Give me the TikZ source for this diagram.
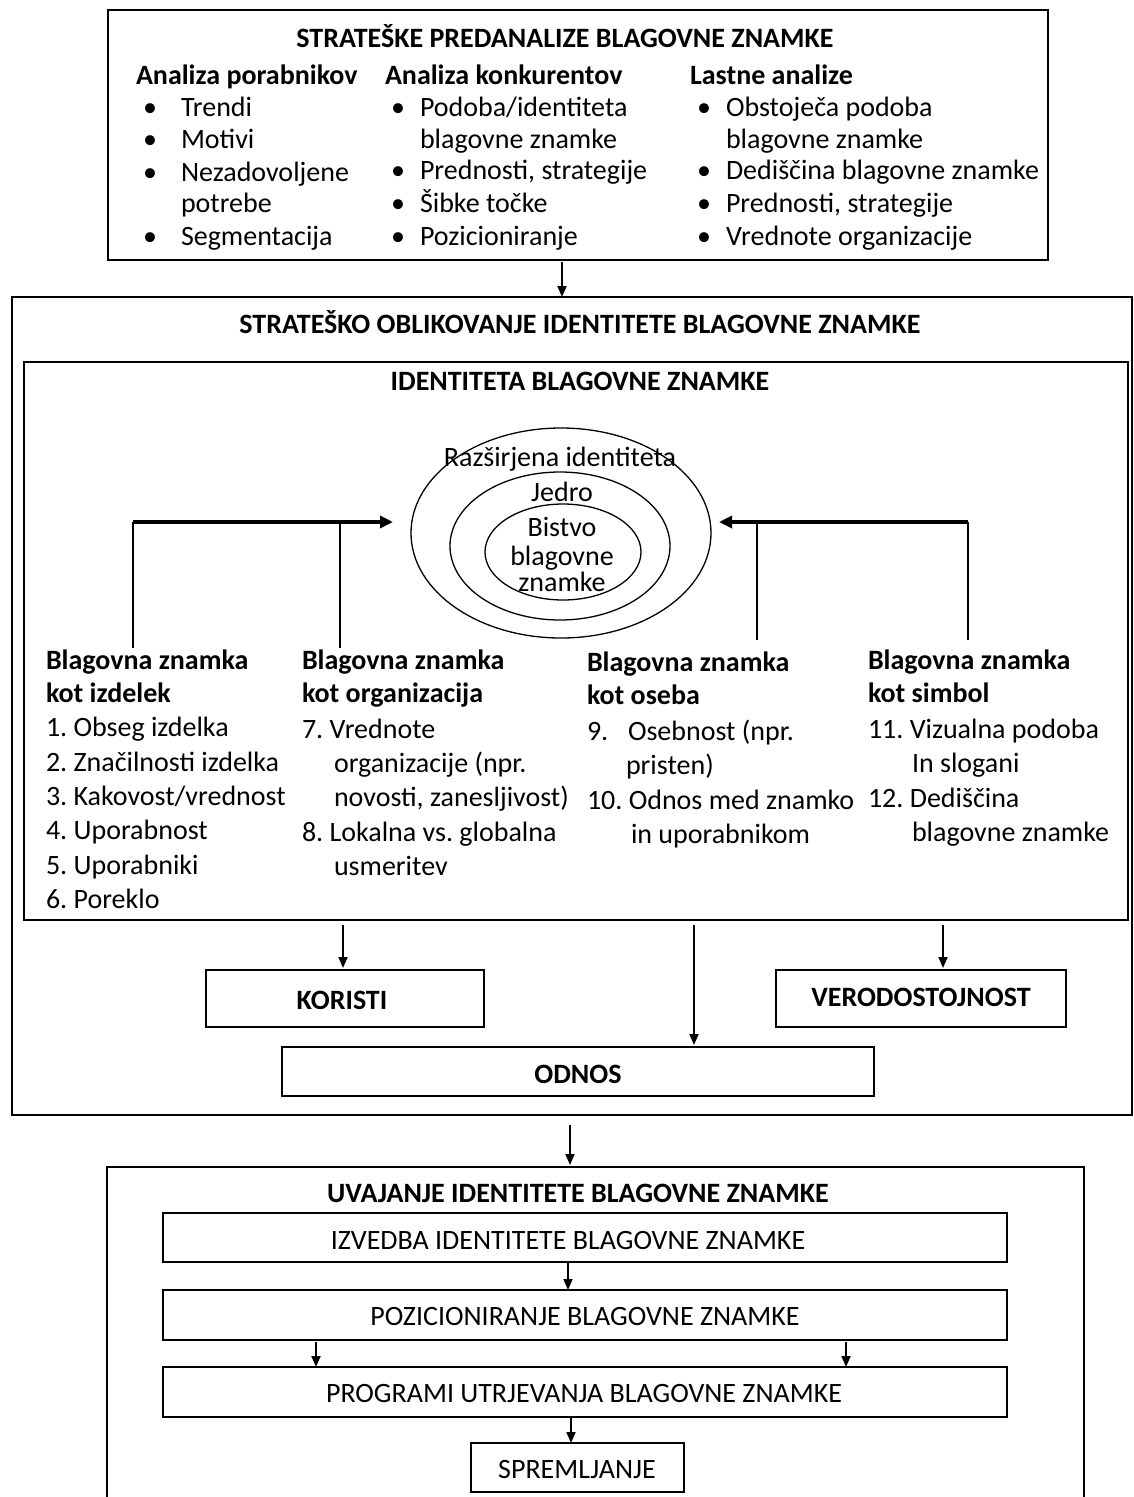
\documentclass[tikz,border=0pt]{standalone}
\usepackage{fontspec}
\setmainfont{Carlito}
\usetikzlibrary{arrows.meta,shapes.geometric}
\frenchspacing

\begin{document}
\begin{tikzpicture}[x=1pt,y=-1pt,
  every node/.style={inner sep=0pt, outer sep=0pt},
  body/.style={font=\fontsize{28}{32}\selectfont, anchor=base west},
  bodyc/.style={font=\fontsize{28}{32}\selectfont, anchor=base},
  title/.style={font=\fontsize{28}{32}\selectfont\bfseries, anchor=base},
  caps/.style={font=\fontsize{28}{32}\selectfont, anchor=base},
  colhead/.style={font=\fontsize{28}{32}\selectfont\bfseries, anchor=base west},
  frame/.style={draw, line width=1.6pt, anchor=north west},
  arr/.style={line width=1.8pt, -{Triangle[length=11pt,width=9pt]}},
  stem/.style={line width=2pt},
  bar/.style={line width=3.2pt, -{Triangle[length=13pt,width=12pt]}},
  ring/.style={draw, ellipse, line width=1.3pt}
]
\useasboundingbox (0,0) rectangle (1134,1497);
\clip (0,0) rectangle (1134,1497);

% ---------- frames ----------
\node[frame, minimum width=940pt, minimum height=250pt] (pre) at (108,10) {};
\node[frame, minimum width=1120pt, minimum height=818pt] (oblik) at (12,297) {};
\node[frame, minimum width=1104pt, minimum height=558pt] (ident) at (24,362) {};
\node[frame, minimum width=278pt, minimum height=57pt] (kor) at (206,970) {};
\node[frame, minimum width=290pt, minimum height=57pt] (ver) at (776,970) {};
\node[frame, minimum width=592pt, minimum height=49pt] (odn) at (282,1047) {};
\node[frame, minimum width=977pt, minimum height=380pt] (uva) at (107,1167) {};
\node[frame, minimum width=844pt, minimum height=49pt] (izv) at (163,1213) {};
\node[frame, minimum width=844pt, minimum height=50pt] (poz) at (163,1290) {};
\node[frame, minimum width=844pt, minimum height=50pt] (prg) at (163,1367) {};
\node[frame, minimum width=213pt, minimum height=49pt] (spr) at (471,1443) {};

% ---------- strategic pre-analyses ----------
\node[title] (preT) at (565,47) {STRATEŠKE PREDANALIZE BLAGOVNE ZNAMKE};
\node[colhead] (pa) at (136,84) {Analiza porabnikov};
\node[colhead] (pb) at (385,84) {Analiza konkurentov};
\node[colhead] (pc) at (690,84) {Lastne analize};

\node[bodyc] (ba1) at (150,116) {•};
\node[body]  (ta1) at (181,116) {Trendi};
\node[bodyc] (ba2) at (150,148) {•};
\node[body]  (ta2) at (181,148) {Motivi};
\node[bodyc] (ba3) at (150,181) {•};
\node[body]  (ta3) at (181,181) {Nezadovoljene};
\node[body]  (ta3b) at (181,212) {potrebe};
\node[bodyc] (ba4) at (150,245) {•};
\node[body]  (ta4) at (181,245) {Segmentacija};

\node[bodyc] (bb1) at (398,116) {•};
\node[body]  (tb1) at (420,116) {Podoba/identiteta};
\node[body]  (tb1b) at (420,148) {blagovne znamke};
\node[bodyc] (bb2) at (398,179) {•};
\node[body]  (tb2) at (420,179) {Prednosti, strategije};
\node[bodyc] (bb3) at (398,212) {•};
\node[body]  (tb3) at (420,212) {Šibke točke};
\node[bodyc] (bb4) at (398,245) {•};
\node[body]  (tb4) at (420,245) {Pozicioniranje};

\node[bodyc] (bc1) at (704,116) {•};
\node[body]  (tc1) at (726,116) {Obstoječa podoba};
\node[body]  (tc1b) at (726,148) {blagovne znamke};
\node[bodyc] (bc2) at (704,179) {•};
\node[body]  (tc2) at (726,179) {Dediščina blagovne znamke};
\node[bodyc] (bc3) at (704,212) {•};
\node[body]  (tc3) at (726,212) {Prednosti, strategije};
\node[bodyc] (bc4) at (704,245) {•};
\node[body]  (tc4) at (726,245) {Vrednote organizacije};

% ---------- strategic identity design ----------
\node[title] (oblikT) at (580,333) {STRATEŠKO OBLIKOVANJE IDENTITETE BLAGOVNE ZNAMKE};
\node[title] (identT) at (580,390) {IDENTITETA BLAGOVNE ZNAMKE};

\node[ring, minimum width=300pt, minimum height=210pt] (eOut) at (561,533) {};
\node[ring, minimum width=220pt, minimum height=148pt] (eMid) at (560,546) {};
\node[ring, minimum width=156pt, minimum height=96pt]  (eIn)  at (563,552) {};
\node[bodyc] (tOut) at (560,466) {Razširjena identiteta};
\node[bodyc] (tMid) at (562,501) {Jedro};
\node[bodyc] (tIn1) at (562,536) {Bistvo};
\node[bodyc] (tIn2) at (562,565) {blagovne};
\node[bodyc] (tIn3) at (562,591) {znamke};

% four perspectives
\node[colhead] (h1a) at (46,669) {Blagovna znamka};
\node[colhead] (h1b) at (46,702) {kot izdelek};
\node[body] (i1) at (46,736) {1. Obseg izdelka};
\node[body] (i2) at (46,771) {2. Značilnosti izdelka};
\node[body] (i3) at (46,805) {3. Kakovost/vrednost};
\node[body] (i4) at (46,839) {4. Uporabnost};
\node[body] (i5) at (46,874) {5. Uporabniki};
\node[body] (i6) at (46,908) {6. Poreklo};

\node[colhead] (h2a) at (302,669) {Blagovna znamka};
\node[colhead] (h2b) at (302,702) {kot organizacija};
\node[body] (i7)  at (302,738) {7. Vrednote};
\node[body] (i7b) at (334,772) {organizacije (npr.};
\node[body] (i7c) at (334,806) {novosti, zanesljivost)};
\node[body] (i8)  at (302,841) {8. Lokalna vs. globalna};
\node[body] (i8b) at (334,875) {usmeritev};

\node[colhead] (h3a) at (587,671) {Blagovna znamka};
\node[colhead] (h3b) at (587,704) {kot oseba};
\node[body] (n9)   at (587,740) {9.};
\node[body] (i9)   at (628,740) {Osebnost (npr.};
\node[body] (i9b)  at (626,774) {pristen)};
\node[body] (i10)  at (587,809) {10. Odnos med znamko};
\node[body] (i10b) at (631,843) {in uporabnikom};

\node[colhead] (h4a) at (868,669) {Blagovna znamka};
\node[colhead] (h4b) at (868,702) {kot simbol};
\node[body] (i11)  at (868,738) {11. Vizualna podoba};
\node[body] (i11b) at (912,772) {In slogani};
\node[body] (i12)  at (868,807) {12. Dediščina};
\node[body] (i12b) at (912,841) {blagovne znamke};

% elbow connectors into the identity rings
\coordinate (eL1) at (133,648);
\coordinate (eL2) at (340,648);
\coordinate (tipL) at (393,522);
\coordinate (eR1) at (968,640);
\coordinate (eR2) at (757,640);
\coordinate (tipR) at (719,522);
\draw[stem] (eL1) -- (eL1 |- tipL);
\draw[stem] (eL2) -- (eL2 |- tipL);
\draw[bar] (eL1 |- tipL) -- (tipL);
\draw[stem] (eR1) -- (eR1 |- tipR);
\draw[stem] (eR2) -- (eR2 |- tipR);
\draw[bar] (eR1 |- tipR) -- (tipR);

% results
\node[title] (korT) at (342,1009) {KORISTI};
\node[title] (verT) at (921,1006) {VERODOSTOJNOST};
\node[title] (odnT) at (578,1083) {ODNOS};

% ---------- implementation ----------
\node[title] (uvaT) at (578,1202) {UVAJANJE IDENTITETE BLAGOVNE ZNAMKE};
\node[caps] (izvT) at (568,1249) {IZVEDBA IDENTITETE BLAGOVNE ZNAMKE};
\node[caps] (pozT) at (585,1325) {POZICIONIRANJE BLAGOVNE ZNAMKE};
\node[caps] (prgT) at (584,1402) {PROGRAMI UTRJEVANJA BLAGOVNE ZNAMKE};
\node[caps] (sprT) at (577,1478) {SPREMLJANJE};

% ---------- arrows between stages ----------
\coordinate (x1) at (562,0);
\coordinate (x2) at (343,0);
\coordinate (x3) at (943,0);
\coordinate (x4) at (694,0);
\coordinate (x5) at (570,0);
\coordinate (x6) at (568,0);
\coordinate (x7) at (316,0);
\coordinate (x8) at (846,0);
\coordinate (x9) at (571,0);

\draw[arr, shorten <=2pt] (pre.south -| x1) -- (oblik.north -| x1);
\draw[arr, shorten <=5pt, shorten >=2pt] (ident.south -| x2) -- (kor.north -| x2);
\draw[arr, shorten <=5pt, shorten >=2pt] (ident.south -| x3) -- (ver.north -| x3);
\draw[arr, shorten <=5pt, shorten >=2pt] (ident.south -| x4) -- (odn.north -| x4);
\draw[arr, shorten <=10pt, shorten >=2pt] (oblik.south -| x5) -- (uva.north -| x5);
\draw[arr] (izv.south -| x6) -- (poz.north -| x6);
\draw[arr, shorten <=2pt] (poz.south -| x7) -- (prg.north -| x7);
\draw[arr, shorten <=2pt] (poz.south -| x8) -- (prg.north -| x8);
\draw[arr] (prg.south -| x9) -- (spr.north -| x9);
\end{tikzpicture}
\end{document}
